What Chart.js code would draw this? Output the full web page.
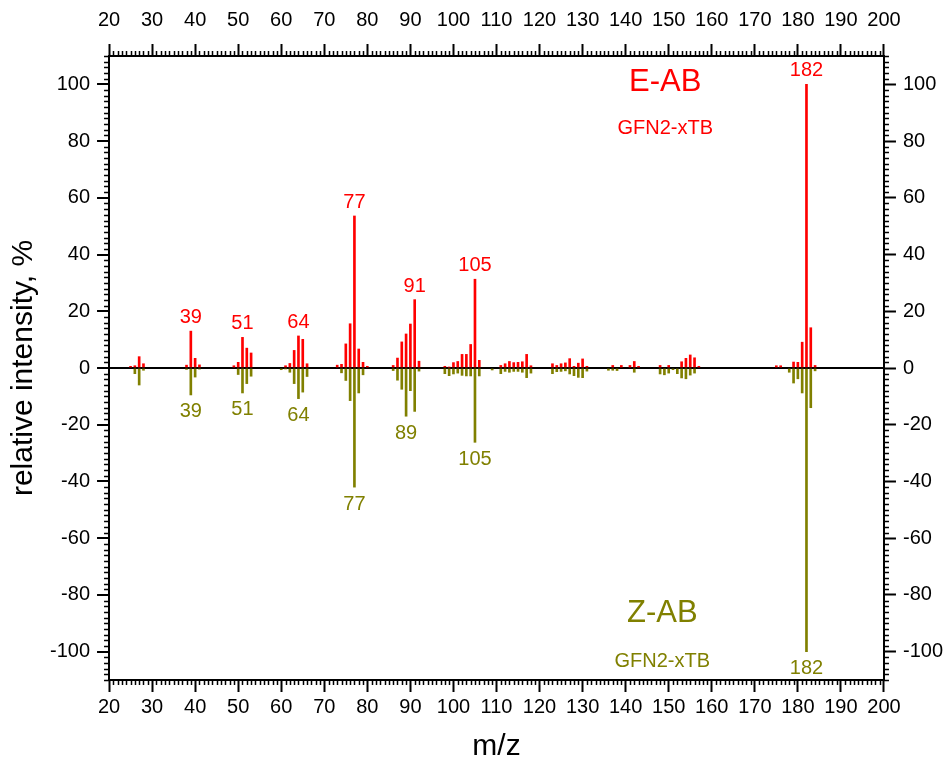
<!DOCTYPE html>
<html>
<head>
<meta charset="utf-8">
<script src="https://cdn.jsdelivr.net/npm/chart.js@4.4.1/dist/chart.umd.min.js"></script>
<style>
  body { margin: 0; background: #fff; }
  #wrap { width: 946px; height: 766px; }
</style>
</head>
<body>
<div id="wrap"><canvas id="myGraph"></canvas></div>
<script>
// m/z values and relative intensities (E-AB up, Z-AB down)
let mz = [25, 26, 27, 28, 38, 39, 40, 41, 49, 50, 51, 52, 53, 60, 61, 62, 63, 64, 65, 66,
  73, 74, 75, 76, 77, 78, 79, 80, 86, 87, 88, 89, 90, 91, 92, 98, 99, 100, 101, 102, 103, 104, 105, 106,
  109, 111, 112, 113, 114, 115, 116, 117, 118, 123, 124, 125, 126, 127, 128, 129, 130, 131,
  136, 137, 138, 139, 141, 142, 143, 148, 149, 150, 151, 152, 153, 154, 155, 156, 157,
  175, 176, 178, 179, 180, 181, 182, 183, 184];
let eab = [0.6, 0.8, 4.0, 1.5, 1.0, 13.0, 3.4, 1.1, 0.8, 2.0, 10.8, 7.0, 5.3, 0, 0.8, 1.6, 6.2, 11.3, 10.1, 1.5,
  1.0, 1.3, 8.5, 15.6, 53.6, 6.7, 2.0, 0.6, 0.9, 3.5, 9.2, 12.0, 15.5, 24.1, 2.4, 0.6, 0.3, 1.9, 2.3, 4.8, 4.8, 8.3, 31.3, 2.7,
  0, 0.9, 1.5, 2.3, 1.9, 2.0, 2.2, 4.8, 0.8, 1.5, 0.9, 1.5, 1.8, 3.3, 0.6, 1.7, 3.2, 0.6,
  0, 0.9, 0, 0.9, 0.9, 2.3, 0.6, 0.9, 0, 0.9, 0, 0, 2.2, 3.4, 4.6, 3.6, 0.6,
  0.8, 0.8, 0, 2.1, 2.0, 9.1, 100, 14.2, 0.9];
let zab = [0, -2.0, -6.0, -0.8, -0.5, -9.5, -3.2, -0.4, 0, -2.3, -8.8, -5.5, -2.9, -0.6, -0.3, -1.5, -5.5, -10.8, -8.5, -3.0,
  0, -1.7, -4.4, -11.5, -42.0, -8.8, -2.4, 0, -0.9, -4.3, -7.5, -17.0, -8.0, -15.3, -1.1, -2.0, -2.7, -2.1, -1.8, -2.6, -2.8, -2.8, -26.2, -2.8,
  -0.7, -2.0, -1.2, -1.5, -1.2, -1.2, -1.5, -3.4, -1.8, -2.0, -1.3, -1.2, -1.0, -2.1, -2.7, -3.3, -3.4, -1.1,
  -0.8, -0.8, -0.9, 0, 0, -1.5, 0, -2.1, -2.4, -1.8, -0.6, -2.0, -3.5, -3.8, -2.5, -1.8, 0,
  0, 0, -1.5, -5.3, -3.8, -8.8, -100, -14.0, -1.0];

let eabPeaks = [39, 51, 64, 77, 91, 105, 182];
let zabPeaks = [39, 51, 64, 77, 89, 105, 182];

let xTicks = [20, 30, 40, 50, 60, 70, 80, 90, 100, 110, 120, 130, 140, 150, 160, 170, 180, 190, 200];
let yTicks = [-100, -80, -60, -40, -20, 0, 20, 40, 60, 80, 100];

const RED = '#ff0000';
const OLIVE = '#808000';
const FONT = 'Liberation Sans, Arial, sans-serif';

function setTicks(list) {
  return axis => { axis.ticks = list.map(v => ({ value: v })); };
}

function axisOpts(pos, list, min, max) {
  return {
    type: 'linear',
    position: pos,
    min: min,
    max: max,
    offset: false,
    afterBuildTicks: setTicks(list),
    grid: { drawOnChartArea: false, offset: false, tickLength: 12, tickWidth: 2, tickColor: '#000' },
    border: { display: true, color: '#000', width: 2 },
    ticks: { color: '#000', font: { family: FONT, size: 20 }, padding: 7, maxRotation: 0, autoSkip: false }
  };
}

// minor ticks, labels on the peaks and the two legend texts
const extras = {
  id: 'extras',
  afterDatasetsDraw(chart) {
    const c = chart.ctx, a = chart.chartArea;
    const sx = chart.scales.x, sy = chart.scales.y;
    c.save();
    c.strokeStyle = '#000';
    c.lineWidth = 1.5;
    c.beginPath();
    for (let m = 21; m < 200; m++) {
      if (m % 10 === 0) continue;
      const px = Math.round(sx.getPixelForValue(m)) + 0.5;
      c.moveTo(px, a.bottom); c.lineTo(px, a.bottom + 5);
      c.moveTo(px, a.top); c.lineTo(px, a.top - 5);
    }
    for (let v = -110; v <= 110; v += 2) {
      if (v % 20 === 0) continue;
      const py = Math.round(sy.getPixelForValue(v)) + 0.5;
      c.moveTo(a.left, py); c.lineTo(a.left - 5, py);
      c.moveTo(a.right, py); c.lineTo(a.right + 5, py);
    }
    c.stroke();

    c.font = '20px ' + FONT;
    c.textAlign = 'center';
    c.fillStyle = RED;
    c.textBaseline = 'alphabetic';
    eabPeaks.forEach(p => {
      const i = mz.indexOf(p);
      c.fillText(String(p), sx.getPixelForValue(p), sy.getPixelForValue(eab[i]) - 8);
    });
    c.fillStyle = OLIVE;
    c.textBaseline = 'top';
    zabPeaks.forEach(p => {
      const i = mz.indexOf(p);
      c.fillText(String(p), sx.getPixelForValue(p), sy.getPixelForValue(zab[i]) + 7);
    });

    c.textBaseline = 'middle';
    c.fillStyle = RED;
    c.font = '31px ' + FONT;
    c.fillText('E-AB', sx.getPixelForValue(149.2), sy.getPixelForValue(100.5));
    c.font = '20px ' + FONT;
    c.fillText('GFN2-xTB', sx.getPixelForValue(149.2), sy.getPixelForValue(84.5));
    c.fillStyle = OLIVE;
    c.font = '31px ' + FONT;
    c.fillText('Z-AB', sx.getPixelForValue(148.5), sy.getPixelForValue(-86.5));
    c.font = '20px ' + FONT;
    c.fillText('GFN2-xTB', sx.getPixelForValue(148.5), sy.getPixelForValue(-103.5));
    c.restore();
  }
};

function drawChart() {
  const ctx = document.getElementById('myGraph').getContext('2d');
  const xAxis = axisOpts('bottom', xTicks, 20, 200);
  xAxis.ticks.padding = 3;
  xAxis.title = { display: true, text: 'm/z', color: '#000', font: { family: FONT, size: 30 }, padding: { top: 7, bottom: 1 } };
  const x2Axis = axisOpts('top', xTicks, 20, 200);
  x2Axis.ticks.padding = 12;
  const yAxis = axisOpts('left', yTicks, -110, 110);
  yAxis.grid.drawOnChartArea = true;
  yAxis.grid.color = c => (c.tick && c.tick.value === 0 ? '#000' : 'rgba(0,0,0,0)');
  yAxis.grid.lineWidth = 2;
  yAxis.title = { display: true, text: 'relative intensity, %', color: '#000', font: { family: FONT, size: 30 }, padding: { top: 3, bottom: 1 } };
  const y2Axis = axisOpts('right', yTicks, -110, 110);

  new Chart(ctx, {
    type: 'bar',
    data: {
      datasets: [{
        label: 'E-AB',
        data: mz.map((m, i) => ({ x: m, y: eab[i] || null })),
        backgroundColor: RED,
        barThickness: 2,
        grouped: false,
        xAxisID: 'x',
        yAxisID: 'y'
      },
      {
        label: 'Z-AB',
        data: mz.map((m, i) => ({ x: m, y: zab[i] || null })),
        backgroundColor: OLIVE,
        barThickness: 2,
        grouped: false,
        xAxisID: 'x',
        yAxisID: 'y'
      }]
    },
    options: {
      responsive: true,
      maintainAspectRatio: false,
      animation: false,
      layout: { padding: { left: 3, right: -4, top: -4, bottom: 0 } },
      plugins: { legend: { display: false }, tooltip: { enabled: false } },
      scales: { x: xAxis, x2: x2Axis, y: yAxis, y2: y2Axis }
    },
    plugins: [extras]
  });
}
drawChart();
</script>
</body>
</html>
